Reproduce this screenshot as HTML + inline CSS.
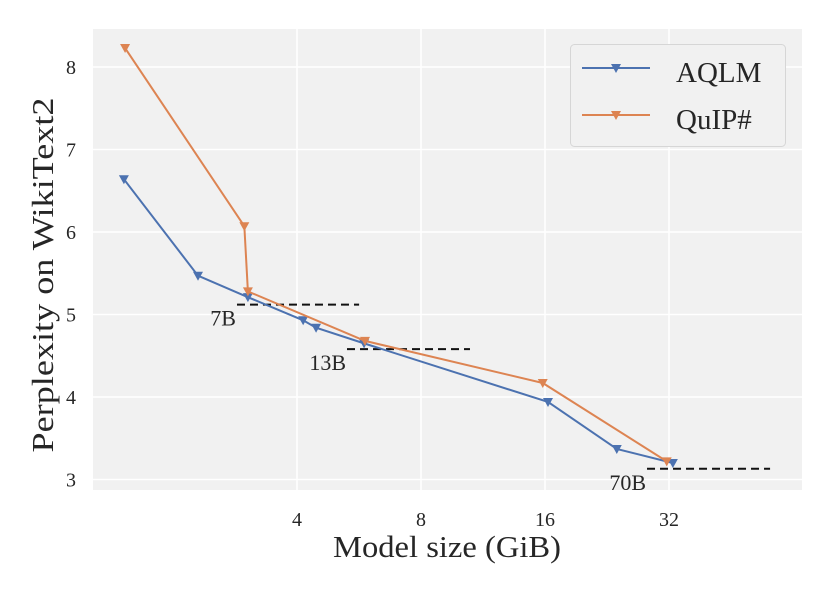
<!DOCTYPE html>
<html><head><meta charset="utf-8"><style>
body{margin:0;background:#fff}
svg text{font-family:"Liberation Serif",serif;fill:#262626}
</style></head><body>
<svg id="chart" width="830" height="593" xmlns="http://www.w3.org/2000/svg">
<rect x="93" y="29" width="709" height="461" fill="#f1f1f1"/>
<g id="grid"></g>
<g id="refs"></g>
<g id="series"></g>
<g id="ticks"></g>
<text x="447" y="557" font-size="31" text-anchor="middle" textLength="228" lengthAdjust="spacingAndGlyphs">Model size (GiB)</text>
<text transform="translate(53,275) rotate(-90)" font-size="31" text-anchor="middle" textLength="355" lengthAdjust="spacingAndGlyphs">Perplexity on WikiText2</text>
<g>
<rect x="570.5" y="44.5" width="215" height="102" rx="4" fill="#f1f1f1" stroke="#d6d6d6" stroke-width="1"/>
<g>
<line x1="582" y1="68" x2="650" y2="68" stroke="#4c72b0" stroke-width="2"/>
<path d="M611,64 L621,64 L616,73 Z" fill="#4c72b0"/>
<text x="676" y="82" font-size="29">AQLM</text></g>
<g>
<line x1="582" y1="115" x2="650" y2="115" stroke="#dd8452" stroke-width="2"/>
<path d="M611,111 L621,111 L616,120 Z" fill="#dd8452"/>
<text x="676" y="129" font-size="29">QuIP#</text></g>
</g>
</svg>
<script>
const xTicks=[4,8,16,32];
const yTicks=[3,4,5,6,7,8];
const aqlmSize=[1.52,2.30,3.04,4.14,4.45,5.82,16.27,23.9,32.7];
const aqlmPpl=[6.64,5.47,5.21,4.93,4.84,4.65,3.94,3.37,3.20];
const quipSize=[1.53,2.98,3.04,5.85,15.8,31.6];
const quipPpl=[8.23,6.07,5.28,4.68,4.17,3.22];
const refLabels=["7B","13B","70B"];
const refPpl=[5.12,4.58,3.13];
const refStart=[2.86,5.29,28.3];
const refEnd=[5.66,10.52,56.3];
const NS="http://www.w3.org/2000/svg";
const X=v=>297+124*(Math.log2(v)-2);
const Y=v=>67+82.5*(8-v);
function mk(t,a,p){const e=document.createElementNS(NS,t);for(const k in a)e.setAttribute(k,a[k]);p.appendChild(e);return e;}
const grid=document.getElementById('grid'),ticks=document.getElementById('ticks');
xTicks.forEach(t=>{
 const l=mk('line',{x1:X(t),x2:X(t),y1:29,y2:490,stroke:'#fff','stroke-width':1.5},grid);
 
 
 const tx=mk('text',{x:X(t),y:526,'font-size':20,'text-anchor':'middle'},ticks);tx.textContent=t;
 
 
});
yTicks.forEach(t=>{
 const l=mk('line',{x1:93,x2:802,y1:Y(t),y2:Y(t),stroke:'#fff','stroke-width':1.5},grid);
 
 
 const tx=mk('text',{x:76,y:Y(t)+7,'font-size':20,'text-anchor':'end'},ticks);tx.textContent=t;
 
 
});
const refs=document.getElementById('refs');
refLabels.forEach((lab,i)=>{
 const l=mk('line',{x1:X(refStart[i]),x2:X(refEnd[i]),y1:Y(refPpl[i]),y2:Y(refPpl[i]),stroke:'#111','stroke-width':2,'stroke-dasharray':'8,5'},refs);
 
 
 const tx=mk('text',{x:X(refStart[i])-1,y:Y(refPpl[i])+21,'font-size':22,'text-anchor':'end'},refs);tx.textContent=lab;
 
 
});
const ser=document.getElementById('series');
function draw(xs,ys,c,name){
 const g=mk('g',{},ser);
 
 
 mk('polyline',{points:xs.map((v,i)=>X(v)+','+Y(ys[i])).join(' '),fill:'none',stroke:c,'stroke-width':2},g);
 xs.forEach((v,i)=>{const x=X(v),y=Y(ys[i]);
  const m=mk('path',{d:`M${x-5},${y-4} L${x+5},${y-4} L${x},${y+5} Z`,fill:c},g);
  
  
 });
}
draw(aqlmSize,aqlmPpl,'#4c72b0','aqlm-series');
draw(quipSize,quipPpl,'#dd8452','quip-series');
</script>
</body></html>
